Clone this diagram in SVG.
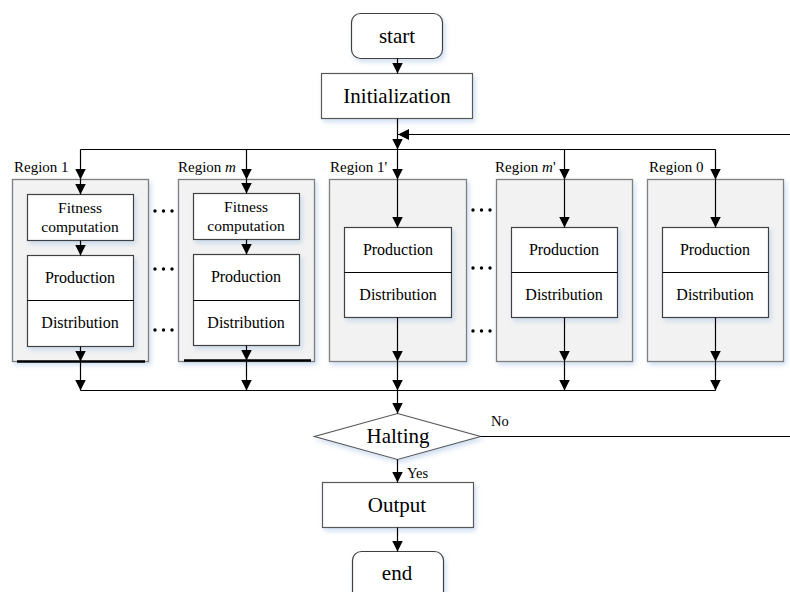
<svg xmlns="http://www.w3.org/2000/svg" width="790" height="592" viewBox="0 0 790 592" font-family="'Liberation Serif', 'Times New Roman', Tinos, 'DejaVu Serif', serif">
<defs>
<marker id="ah" markerUnits="userSpaceOnUse" markerWidth="11" markerHeight="11" refX="11" refY="5.5" orient="auto">
<path d="M0,0 L11,5.5 L0,11 z" fill="#000"/>
</marker>
<filter id="sh" x="-10%" y="-10%" width="130%" height="130%">
<feDropShadow dx="2" dy="3" stdDeviation="2.5" flood-color="#a9c3e3" flood-opacity="0.55"/>
</filter>
<style>
text{font-family:'Liberation Serif','Times New Roman',Tinos,'DejaVu Serif',serif;fill:#000}
.big{font-size:21px}
.mid{font-size:16px}
.fit{font-size:15.5px}
.lab{font-size:15px}
.sm{font-size:14.5px}
.term{fill:#fff;stroke:#404040;stroke-width:1.2}
.proc{fill:#fff;stroke:#595959;stroke-width:1.2}
.reg{fill:#f2f2f2;stroke:#7f7f7f;stroke-width:1.3}
.in{fill:#fff;stroke:#404040;stroke-width:1.2}
.c{fill:none;stroke:#000;stroke-width:1.2}
.a{fill:none;stroke:#000;stroke-width:1.2;marker-end:url(#ah)}
.thick{stroke:#000;stroke-width:2.5}
.dot{fill:#000}
</style>
</defs>

<g id="start">
<rect class="term" x="351.5" y="13.5" width="91" height="45" rx="9" filter="url(#sh)"/>
<text class="big" x="397" y="43" text-anchor="middle">start</text>
</g>

<g id="init">
<rect class="proc" x="321.5" y="73.5" width="151" height="45" filter="url(#sh)"/>
<text class="big" x="397" y="103" text-anchor="middle">Initialization</text>
</g>

<g id="region1">
<rect class="reg" x="12.5" y="179.5" width="136" height="182" filter="url(#sh)"/>
<line class="thick" x1="17" y1="361.5" x2="145" y2="361.5"/>
<text class="lab" x="14" y="172">Region 1</text>
<rect class="in" x="27.5" y="194.5" width="106" height="46" filter="url(#sh)"/>
<text class="fit" x="80" y="213" text-anchor="middle">Fitness</text>
<text class="fit" x="80" y="232" text-anchor="middle">computation</text>
<rect class="in" x="27.5" y="255.5" width="106" height="91" filter="url(#sh)"/>
<line class="c" x1="27.5" y1="300.5" x2="133.5" y2="300.5"/>
<text class="mid" x="80" y="283" text-anchor="middle">Production</text>
<text class="mid" x="80" y="328" text-anchor="middle">Distribution</text>
</g>

<g id="regionm">
<rect class="reg" x="178.5" y="179.5" width="136" height="182" filter="url(#sh)"/>
<line class="thick" x1="184" y1="360.5" x2="311" y2="360.5"/>
<text class="lab" x="178" y="172">Region <tspan font-style="italic">m</tspan></text>
<rect class="in" x="193.5" y="193.5" width="106" height="46" filter="url(#sh)"/>
<text class="fit" x="246" y="212" text-anchor="middle">Fitness</text>
<text class="fit" x="246" y="231" text-anchor="middle">computation</text>
<rect class="in" x="193.5" y="254.5" width="106" height="91" filter="url(#sh)"/>
<line class="c" x1="193.5" y1="300.5" x2="299.5" y2="300.5"/>
<text class="mid" x="246" y="282" text-anchor="middle">Production</text>
<text class="mid" x="246" y="328" text-anchor="middle">Distribution</text>
</g>

<g id="region1p">
<rect class="reg" x="329.5" y="179.5" width="137" height="182" filter="url(#sh)"/>
<text class="lab" x="330" y="172">Region 1'</text>
<rect class="in" x="344.5" y="227.5" width="107" height="90" filter="url(#sh)"/>
<line class="c" x1="344.5" y1="272.5" x2="451.5" y2="272.5"/>
<text class="mid" x="398" y="255" text-anchor="middle">Production</text>
<text class="mid" x="398" y="300" text-anchor="middle">Distribution</text>
</g>

<g id="regionmp">
<rect class="reg" x="496.5" y="179.5" width="136" height="182" filter="url(#sh)"/>
<text class="lab" x="495" y="172">Region <tspan font-style="italic">m</tspan>'</text>
<rect class="in" x="511.5" y="227.5" width="106" height="90" filter="url(#sh)"/>
<line class="c" x1="511.5" y1="272.5" x2="617.5" y2="272.5"/>
<text class="mid" x="564" y="255" text-anchor="middle">Production</text>
<text class="mid" x="564" y="300" text-anchor="middle">Distribution</text>
</g>

<g id="region0">
<rect class="reg" x="647.5" y="179.5" width="136" height="182" filter="url(#sh)"/>
<text class="lab" x="649" y="172">Region 0</text>
<rect class="in" x="662.5" y="227.5" width="106" height="90" filter="url(#sh)"/>
<line class="c" x1="662.5" y1="272.5" x2="768.5" y2="272.5"/>
<text class="mid" x="715" y="255" text-anchor="middle">Production</text>
<text class="mid" x="715" y="300" text-anchor="middle">Distribution</text>
</g>

<g id="dots">
<circle class="dot" cx="155" cy="211" r="1.7"/><circle class="dot" cx="163.5" cy="211" r="1.7"/><circle class="dot" cx="172" cy="211" r="1.7"/>
<circle class="dot" cx="155" cy="269" r="1.7"/><circle class="dot" cx="163.5" cy="269" r="1.7"/><circle class="dot" cx="172" cy="269" r="1.7"/>
<circle class="dot" cx="155" cy="330" r="1.7"/><circle class="dot" cx="163.5" cy="330" r="1.7"/><circle class="dot" cx="172" cy="330" r="1.7"/>
<circle class="dot" cx="473" cy="210" r="1.7"/><circle class="dot" cx="481.5" cy="210" r="1.7"/><circle class="dot" cx="490" cy="210" r="1.7"/>
<circle class="dot" cx="473" cy="268" r="1.7"/><circle class="dot" cx="481.5" cy="268" r="1.7"/><circle class="dot" cx="490" cy="268" r="1.7"/>
<circle class="dot" cx="473" cy="331" r="1.7"/><circle class="dot" cx="481.5" cy="331" r="1.7"/><circle class="dot" cx="490" cy="331" r="1.7"/>
</g>

<g id="halting">
<polygon class="proc" points="397.5,413.5 480.5,436.5 397.5,459.5 314.5,436.5" filter="url(#sh)"/>
<text class="big" x="398" y="443" text-anchor="middle">Halting</text>
</g>

<g id="output">
<rect class="proc" x="322.5" y="482.5" width="151" height="45" filter="url(#sh)"/>
<text class="big" x="397" y="512" text-anchor="middle">Output</text>
</g>

<g id="end">
<rect class="term" x="352.5" y="551.5" width="91" height="50" rx="9" filter="url(#sh)"/>
<text class="big" x="397" y="580" text-anchor="middle">end</text>
</g>

<g id="connectors">
<line class="a" x1="397.5" y1="58.5" x2="397.5" y2="73.5"/>
<line class="a" x1="397.5" y1="118.5" x2="397.5" y2="149.5"/>
<line class="a" x1="790" y1="134.5" x2="398" y2="134.5"/>
<line class="c" x1="80.5" y1="149.5" x2="715.5" y2="149.5"/>
<line class="a" x1="80.5" y1="149.5" x2="80.5" y2="179.5"/>
<line class="a" x1="246.5" y1="149.5" x2="246.5" y2="179.5"/>
<line class="a" x1="397.5" y1="149.5" x2="397.5" y2="179.5"/>
<line class="a" x1="564.5" y1="149.5" x2="564.5" y2="179.5"/>
<line class="a" x1="715.5" y1="149.5" x2="715.5" y2="179.5"/>
<line class="a" x1="80.5" y1="179.5" x2="80.5" y2="194.5"/>
<line class="a" x1="80.5" y1="240.5" x2="80.5" y2="255.5"/>
<line class="a" x1="80.5" y1="346.5" x2="80.5" y2="361.5"/>
<line class="a" x1="246.5" y1="179.5" x2="246.5" y2="193.5"/>
<line class="a" x1="246.5" y1="239.5" x2="246.5" y2="254.5"/>
<line class="a" x1="246.5" y1="345.5" x2="246.5" y2="360.5"/>
<line class="a" x1="397.5" y1="179.5" x2="397.5" y2="227.5"/>
<line class="a" x1="397.5" y1="317.5" x2="397.5" y2="361.5"/>
<line class="a" x1="564.5" y1="179.5" x2="564.5" y2="227.5"/>
<line class="a" x1="564.5" y1="317.5" x2="564.5" y2="361.5"/>
<line class="a" x1="715.5" y1="179.5" x2="715.5" y2="227.5"/>
<line class="a" x1="715.5" y1="317.5" x2="715.5" y2="361.5"/>
<line class="a" x1="80.5" y1="361.5" x2="80.5" y2="390.5"/>
<line class="a" x1="246.5" y1="360.5" x2="246.5" y2="390.5"/>
<line class="a" x1="397.5" y1="361.5" x2="397.5" y2="390.5"/>
<line class="a" x1="564.5" y1="361.5" x2="564.5" y2="390.5"/>
<line class="a" x1="715.5" y1="361.5" x2="715.5" y2="390.5"/>
<line class="c" x1="80.5" y1="390.5" x2="715.5" y2="390.5"/>
<line class="a" x1="397.5" y1="390.5" x2="397.5" y2="413.5"/>
<line class="a" x1="397.5" y1="459.5" x2="397.5" y2="482.5"/>
<line class="a" x1="397.5" y1="527.5" x2="397.5" y2="551.5"/>
<line class="c" x1="480.5" y1="436.5" x2="790" y2="436.5"/>
<text class="sm" x="407" y="478">Yes</text>
<text class="sm" x="491" y="426">No</text>
</g>
</svg>
